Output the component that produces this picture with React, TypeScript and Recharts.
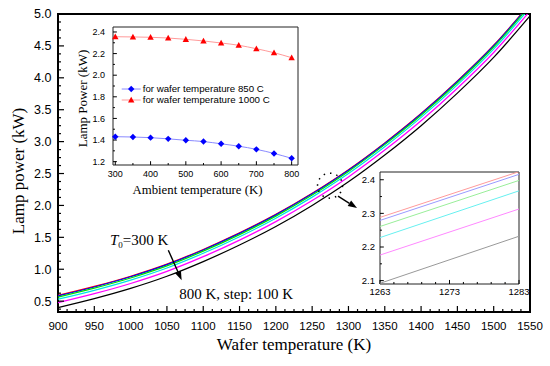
import React from 'react';
import { LineChart, Line, XAxis, YAxis, ReferenceLine, ReferenceArea, ReferenceDot } from 'recharts';

const SANS = '"Liberation Sans", Arial, sans-serif';
const SERIF = '"Liberation Serif", "Times New Roman", serif';

// ---------- main chart data ----------
const waferTemps = [900, 950, 1000, 1050, 1100, 1150, 1200, 1250, 1300, 1350, 1400, 1450, 1500, 1550];
const power300 = [0.59, 0.73, 0.89, 1.08, 1.31, 1.57, 1.86, 2.19, 2.56, 2.98, 3.44, 3.95, 4.51, 5.16];
const power400 = [0.582, 0.722, 0.882, 1.072, 1.302, 1.562, 1.852, 2.182, 2.552, 2.972, 3.432, 3.942, 4.502, 5.152];
const power500 = [0.563, 0.703, 0.863, 1.053, 1.283, 1.543, 1.833, 2.163, 2.533, 2.953, 3.413, 3.923, 4.483, 5.133];
const power600 = [0.53, 0.67, 0.83, 1.02, 1.25, 1.51, 1.8, 2.13, 2.5, 2.92, 3.38, 3.89, 4.45, 5.1];
const power700 = [0.477, 0.617, 0.777, 0.967, 1.197, 1.457, 1.747, 2.077, 2.447, 2.867, 3.327, 3.837, 4.397, 5.047];
const power800 = [0.4, 0.54, 0.7, 0.89, 1.12, 1.38, 1.67, 2.0, 2.37, 2.79, 3.25, 3.76, 4.32, 4.97];
const mainXTicks = [900, 950, 1000, 1050, 1100, 1150, 1200, 1250, 1300, 1350, 1400, 1450, 1500, 1550];
const mainYTicks = [0.5, 1.0, 1.5, 2.0, 2.5, 3.0, 3.5, 4.0, 4.5, 5.0];

// ---------- inset 1 data (ambient temperature) ----------
const ambientTemps = [300, 350, 400, 450, 500, 550, 600, 650, 700, 750, 800];
const power850C = [1.431, 1.428, 1.422, 1.411, 1.398, 1.386, 1.365, 1.343, 1.314, 1.276, 1.231];
const power1000C = [2.356, 2.354, 2.351, 2.344, 2.332, 2.317, 2.298, 2.277, 2.245, 2.208, 2.162];
const ambXTicks = [300, 400, 500, 600, 700, 800];
const ambYTicks = [1.2, 1.4, 1.6, 1.8, 2.0, 2.2, 2.4];
const legendLabels = ['for wafer temperature 850 C', 'for wafer temperature 1000 C'];

// ---------- inset 2 data (zoom) ----------
const zoomTemps = [1263, 1283];
const zoom300 = [2.288, 2.424];
const zoom400 = [2.279, 2.416];
const zoom500 = [2.261, 2.398];
const zoom600 = [2.228, 2.367];
const zoom700 = [2.176, 2.313];
const zoom800 = [2.092, 2.232];
const zoomXTicks = [1263, 1273, 1283];
const zoomYTicks = [2.1, 2.2, 2.3, 2.4];

const mainSeries = [
  { key: 'p300', values: power300, color: '#ff0000' },
  { key: 'p400', values: power400, color: '#0000ff' },
  { key: 'p500', values: power500, color: '#00e000' },
  { key: 'p600', values: power600, color: '#00e5e5' },
  { key: 'p700', values: power700, color: '#ff00ff' },
  { key: 'p800', values: power800, color: '#000000' },
];
const zoomSeries = [
  { key: 'z300', values: zoom300, color: '#ff9a9a' },
  { key: 'z400', values: zoom400, color: '#9a9aff' },
  { key: 'z500', values: zoom500, color: '#99ee99' },
  { key: 'z600', values: zoom600, color: '#66f0f0' },
  { key: 'z700', values: zoom700, color: '#ff88ff' },
  { key: 'z800', values: zoom800, color: '#999999' },
];

const mainData = waferTemps.map((T, i) => {
  const row: any = { T };
  mainSeries.forEach((s) => (row[s.key] = s.values[i]));
  return row;
});
const ambData = ambientTemps.map((T, i) => ({ T, a850: power850C[i], a1000: power1000C[i] }));
const zoomData = zoomTemps.map((T, i) => {
  const row: any = { T };
  zoomSeries.forEach((s) => (row[s.key] = s.values[i]));
  return row;
});

// domains
const MX: [number, number] = [900, 1550];
const MY: [number, number] = [0.33, 5];
const AX: [number, number] = [293.5, 818];
const AY: [number, number] = [1.169, 2.446];
const ZX: [number, number] = [1263, 1283];
const ZY: [number, number] = [2.09, 2.423];

function range(a: number, b: number, step: number) {
  const out: number[] = [];
  for (let v = a; v <= b + 1e-9; v += step) out.push(Math.round(v * 1000) / 1000);
  return out;
}

function inwardTicks(
  xs: number[], xMinor: number[], ys: number[], yMinor: number[],
  xDom: [number, number], yDom: [number, number],
  xLenMaj: number, xLenMin: number, yLenMaj: number, yLenMin: number, sw: number, prefix: string
) {
  const els: any[] = [];
  xs.forEach((v, i) => els.push(<ReferenceLine key={prefix + 'xM' + i} segment={[{ x: v, y: yDom[0] }, { x: v, y: yDom[0] + xLenMaj }]} stroke="#000" strokeWidth={sw} ifOverflow="visible" />));
  xMinor.forEach((v, i) => els.push(<ReferenceLine key={prefix + 'xm' + i} segment={[{ x: v, y: yDom[0] }, { x: v, y: yDom[0] + xLenMin }]} stroke="#000" strokeWidth={sw} ifOverflow="visible" />));
  ys.forEach((v, i) => els.push(<ReferenceLine key={prefix + 'yM' + i} segment={[{ x: xDom[0], y: v }, { x: xDom[0] + yLenMaj, y: v }]} stroke="#000" strokeWidth={sw} ifOverflow="visible" />));
  yMinor.forEach((v, i) => els.push(<ReferenceLine key={prefix + 'ym' + i} segment={[{ x: xDom[0], y: v }, { x: xDom[0] + yLenMin, y: v }]} stroke="#000" strokeWidth={sw} ifOverflow="visible" />));
  return els;
}

const arrowShape = (p: any) => {
  const { x1, y1, x2, y2 } = p;
  const ang = Math.atan2(y2 - y1, x2 - x1);
  const L = 9, W = 3.2;
  const bx = x2 - L * Math.cos(ang), by = y2 - L * Math.sin(ang);
  const px = -Math.sin(ang) * W, py = Math.cos(ang) * W;
  return (
    <g>
      <line x1={x1} y1={y1} x2={bx} y2={by} stroke="#000" strokeWidth={1.4} />
      <polygon points={`${x2},${y2} ${bx + px},${by + py} ${bx - px},${by - py}`} fill="#000" />
    </g>
  );
};

const t0Label = (p: any) => (
  <text x={p.cx} y={p.cy} fontFamily={SERIF} fontSize={15} fill="#000">
    <tspan fontStyle="italic">T</tspan>
    <tspan fontSize={9} dy={3}>0</tspan>
    <tspan dy={-3}>=300 K</tspan>
  </text>
);
const stepLabel = (p: any) => (
  <text x={p.cx} y={p.cy} fontFamily={SERIF} fontSize={15} fill="#000">800 K, step: 100 K</text>
);

const mainXTitle = (props: any) => {
  const vb = props.viewBox || { x: 58, y: 312, width: 472, height: 54 };
  return <text x={vb.x + vb.width / 2} y={vb.y + 38} textAnchor="middle" fontFamily={SERIF} fontSize={17} fill="#000">Wafer temperature (K)</text>;
};
const mainYTitle = (props: any) => {
  const vb = props.viewBox || { x: 0, y: 14, width: 58, height: 298 };
  const x = vb.x + 24, y = vb.y + vb.height / 2 + 8;
  return <text x={x} y={y} transform={`rotate(-90, ${x}, ${y})`} textAnchor="middle" fontFamily={SERIF} fontSize={17} fill="#000">Lamp power (kW)</text>;
};
const ambXTitle = (props: any) => {
  const vb = props.viewBox || { x: 43, y: 145, width: 185, height: 35 };
  return <text x={vb.x + vb.width / 2 - 8} y={vb.y + 29} textAnchor="middle" fontFamily={SERIF} fontSize={12.8} fill="#000">Ambient temperature (K)</text>;
};
const ambYTitle = (props: any) => {
  const vb = props.viewBox || { x: 0, y: 7, width: 43, height: 138 };
  const x = vb.x + 16.5, y = vb.y + vb.height / 2 + 2.5;
  return <text x={x} y={y} transform={`rotate(-90, ${x}, ${y})`} textAnchor="middle" fontFamily={SERIF} fontSize={13} fill="#000">Lamp Power (kW)</text>;
};

const Diamond = (p: any) => {
  const { cx, cy } = p;
  if (cx == null || cy == null) return <g key={p.key} />;
  const s = 3.2;
  return <polygon key={p.key} points={`${cx},${cy - s} ${cx + s},${cy} ${cx},${cy + s} ${cx - s},${cy}`} fill="#0000ff" />;
};
const Triangle = (p: any) => {
  const { cx, cy } = p;
  if (cx == null || cy == null) return <g key={p.key} />;
  const s = 3.2;
  return <polygon key={p.key} points={`${cx},${cy - s} ${cx + s},${cy + s * 0.8} ${cx - s},${cy + s * 0.8}`} fill="#ff0000" />;
};

// legend drawn inside the inset plot, anchored at a data point (start of first legend line)
const legendShape = (p: any) => {
  const x0 = p.cx, y0 = p.cy;
  return (
    <g>
      <line x1={x0} y1={y0} x2={x0 + 19} y2={y0} stroke="#8a8aff" strokeWidth={1} />
      <Diamond cx={x0 + 9.5} cy={y0} />
      <text x={x0 + 21} y={y0} dy="0.35em" fontFamily={SANS} fontSize={9.7} fill="#000"
        textLength={121} lengthAdjust="spacingAndGlyphs">{legendLabels[0]}</text>
      <line x1={x0} y1={y0 + 11} x2={x0 + 19} y2={y0 + 11} stroke="#ff9a9a" strokeWidth={1} />
      <Triangle cx={x0 + 9.5} cy={y0 + 11} />
      <text x={x0 + 21} y={y0 + 11} dy="0.35em" fontFamily={SANS} fontSize={9.7} fill="#000"
        textLength={127} lengthAdjust="spacingAndGlyphs">{legendLabels[1]}</text>
    </g>
  );
};

export default function App() {
  const mainTicks = inwardTicks(
    mainXTicks, range(900, 1550, 12.5).filter((v) => v % 50 !== 0),
    mainYTicks, range(0.375, 5, 0.125).filter((v) => Math.abs(v * 2 - Math.round(v * 2)) > 1e-6),
    MX, MY, 0.094, 0.047, 8.3, 4.1, 1.2, 'm'
  );
  const ambTicks = inwardTicks(
    ambXTicks, range(350, 750, 100),
    ambYTicks, range(1.3, 2.3, 0.2),
    AX, AY, 0.035, 0.018, 11, 5.5, 1, 'a'
  );
  const zoomTicks = inwardTicks(
    zoomXTicks, range(1263, 1283, 2).filter((v) => (v - 1263) % 10 !== 0),
    zoomYTicks, range(2.15, 2.35, 0.1),
    ZX, ZY, 0.012, 0.006, 0.55, 0.28, 1, 'z'
  );

  return (
    <div style={{ position: 'absolute', left: 0, top: 0, width: 550, height: 366, background: '#fff' }}>
      <div style={{ position: 'absolute', left: 0, top: 0 }}>
        <LineChart width={550} height={366} data={mainData} margin={{ top: 14, right: 20, bottom: 0, left: 0 }}>
          <XAxis dataKey="T" type="number" domain={MX} ticks={mainXTicks} interval={0} height={54}
            tickLine={false} axisLine={false} tickSize={0} tickMargin={10}
            tick={{ fontSize: 11.5, fill: '#000', fontFamily: SANS }} label={mainXTitle} />
          <YAxis type="number" domain={MY} ticks={mainYTicks} interval={0} width={58} allowDataOverflow
            tickLine={false} axisLine={false} tickSize={0} tickMargin={6.5}
            tickFormatter={(v: number) => v.toFixed(1)}
            tick={{ fontSize: 12.5, fill: '#000', fontFamily: SANS }} label={mainYTitle} />
          {mainSeries.map((s) => (
            <Line key={s.key} dataKey={s.key} type="monotone" stroke={s.color} strokeWidth={1.25} dot={false} isAnimationActive={false} />
          ))}
          {mainTicks}
          <ReferenceArea x1={MX[0]} x2={MX[1]} y1={MY[0]} y2={MY[1]} fill="none" stroke="#000" strokeWidth={2} ifOverflow="visible" />
          <ReferenceDot x={1274.6} y={2.31} r={12.5} fill="none" stroke="#000" strokeWidth={1.5} strokeDasharray="1.5 5" />
          <ReferenceLine segment={[{ x: 1285.6, y: 2.146 }, { x: 1311.8, y: 1.958 }]} shape={arrowShape} ifOverflow="visible" />
          <ReferenceLine segment={[{ x: 1051.9, y: 1.299 }, { x: 1070.3, y: 0.829 }]} shape={arrowShape} ifOverflow="visible" />
          <ReferenceDot x={971.6} y={1.378} r={0} shape={t0Label} />
          <ReferenceDot x={1067} y={0.531} r={0} shape={stepLabel} />
        </LineChart>
      </div>

      <div style={{ position: 'absolute', left: 70, top: 20 }}>
        <LineChart width={240} height={180} data={ambData} margin={{ top: 7, right: 12, bottom: 0, left: 0 }}>
          <XAxis dataKey="T" type="number" domain={AX} ticks={ambXTicks} interval={0} height={35}
            tickLine={false} axisLine={false} tickSize={0} tickMargin={6}
            tick={{ fontSize: 9, fill: '#000', fontFamily: SANS }} label={ambXTitle} />
          <YAxis type="number" domain={AY} ticks={ambYTicks} interval={0} width={43}
            tickLine={false} axisLine={false} tickSize={0} tickMargin={8}
            tickFormatter={(v: number) => v.toFixed(1)}
            tick={{ fontSize: 9, fill: '#000', fontFamily: SANS }} label={ambYTitle} />
          {ambTicks}
          <Line dataKey="a850" type="monotone" stroke="#8a8aff" strokeWidth={1} dot={Diamond} isAnimationActive={false} />
          <Line dataKey="a1000" type="monotone" stroke="#ff9a9a" strokeWidth={1} dot={Triangle} isAnimationActive={false} />
          <ReferenceArea x1={AX[0]} x2={AX[1]} y1={AY[0]} y2={AY[1]} fill="none" stroke="#222" strokeWidth={1} ifOverflow="visible" />
          <ReferenceDot x={318.2} y={1.872} r={0} shape={legendShape} />
        </LineChart>
      </div>

      <div style={{ position: 'absolute', left: 345, top: 165 }}>
        <LineChart width={190} height={139} data={zoomData} margin={{ top: 7, right: 16, bottom: 0, left: 0 }}>
          <XAxis dataKey="T" type="number" domain={ZX} ticks={zoomXTicks} interval={0} height={20}
            tickLine={false} axisLine={false} tickSize={0} tickMargin={4}
            tick={{ fontSize: 9.5, fill: '#000', fontFamily: SANS }} />
          <YAxis type="number" domain={ZY} ticks={zoomYTicks} interval={0} width={35} allowDataOverflow
            tickLine={false} axisLine={false} tickSize={0} tickMargin={5}
            tickFormatter={(v: number) => v.toFixed(1)}
            tick={{ fontSize: 9.5, fill: '#000', fontFamily: SANS }} />
          <ReferenceArea x1={ZX[0]} x2={ZX[1]} y1={ZY[0]} y2={ZY[1]} fill="#fff" stroke="none" ifOverflow="visible" />
          {zoomTicks}
          {zoomSeries.map((s) => (
            <Line key={s.key} dataKey={s.key} type="linear" stroke={s.color} strokeWidth={1} dot={false} isAnimationActive={false} />
          ))}
          <ReferenceArea x1={ZX[0]} x2={ZX[1]} y1={ZY[0]} y2={ZY[1]} fill="none" stroke="#222" strokeWidth={1} ifOverflow="visible" />
        </LineChart>
      </div>
    </div>
  );
}
